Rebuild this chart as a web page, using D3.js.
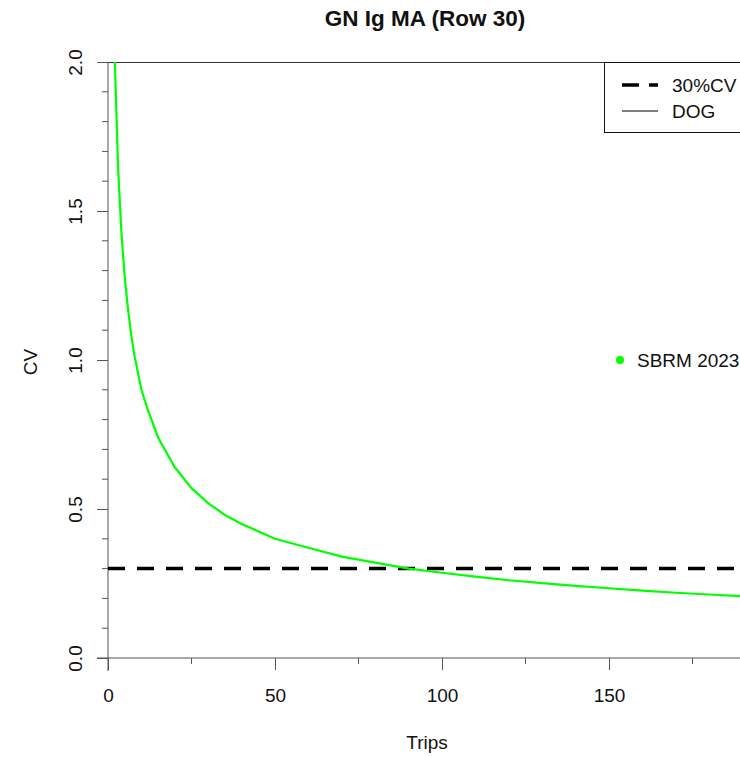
<!doctype html>
<html>
  <head>
    <script src="https://cdnjs.cloudflare.com/ajax/libs/d3/7.8.5/d3.min.js"></script>
    <style>
      body { margin: 0; background: #fff; }
      svg { font-family: "Liberation Sans", Arial, sans-serif; }
      .axis path, .axis line { stroke: #555; }
      .axis text { fill: #111; font-size: 19px; }
    </style>
  </head>
  <body>
    <svg width="740" height="757"></svg>
    <script>
      // CV by number of trips
      var trips = [2, 3, 4, 5, 6, 7, 8, 10, 12, 15, 20, 25, 30, 35, 40, 50, 60, 70, 80, 90, 100, 110, 120, 130, 140, 150, 160, 170, 180, 190];
      var cv    = [2.02, 1.65, 1.43, 1.28, 1.17, 1.08, 1.01, 0.90, 0.83, 0.74, 0.64, 0.57, 0.52, 0.48, 0.45, 0.40, 0.37, 0.34, 0.32, 0.30, 0.286, 0.273, 0.261, 0.251, 0.242, 0.234, 0.226, 0.219, 0.213, 0.207];
      var target = 0.3;
      var sbrm = { label: "SBRM 2023", cv: 1.0 };
      var xTicks = [0, 50, 100, 150];
      var xMinor = [25, 75, 125, 175];
      var yTicks = [0, 0.5, 1.0, 1.5, 2.0];
      var yMinor = [0.1, 0.2, 0.3, 0.4, 0.6, 0.7, 0.8, 0.9, 1.1, 1.2, 1.3, 1.4, 1.6, 1.7, 1.8, 1.9];

      var svg = d3.select("svg");
      var pl = 108, pr = 742.6, pt = 62, pb = 658;

      var x = d3.scaleLinear().domain([0, 190]).range([pl, pr]);
      var y = d3.scaleLinear().domain([0, 2]).range([pb, pt]);

      svg.append("defs").append("clipPath").attr("id", "plot")
        .append("rect").attr("x", pl).attr("y", pt)
        .attr("width", pr - pl).attr("height", pb - pt);

      // top border
      svg.append("line")
        .attr("x1", pl).attr("x2", 740).attr("y1", pt + 0.5).attr("y2", pt + 0.5)
        .attr("stroke", "#333").attr("stroke-width", 1);

      // axes
      var xAxis = svg.append("g").attr("class", "axis")
        .attr("transform", "translate(0," + pb + ")")
        .call(d3.axisBottom(x).tickValues(xTicks).tickSize(12).tickSizeOuter(0).tickFormat(d3.format("d")));
      xAxis.select(".domain").attr("d", "M" + (pl - 11) + ",0H740");
      xAxis.selectAll("text").attr("dy", null).attr("y", 44);
      xAxis.selectAll(".minor").data(xMinor).enter().append("line")
        .attr("class", "minor").attr("x1", d => x(d)).attr("x2", d => x(d))
        .attr("y1", 0).attr("y2", 6);

      var yAxis = svg.append("g").attr("class", "axis")
        .attr("transform", "translate(" + pl + ",0)")
        .call(d3.axisLeft(y).tickValues(yTicks).tickSize(11).tickSizeOuter(0).tickFormat(d3.format(".1f")));
      yAxis.select(".domain").attr("d", "M0," + pt + "V" + (pb + 13));
      yAxis.selectAll("text")
        .attr("x", null).attr("dy", null)
        .attr("text-anchor", "middle")
        .attr("transform", "translate(-26,0) rotate(-90)");
      yAxis.selectAll(".minor").data(yMinor).enter().append("line")
        .attr("class", "minor").attr("y1", d => y(d)).attr("y2", d => y(d))
        .attr("x1", 0).attr("x2", -6);

      // titles
      svg.append("text").attr("x", 425).attr("y", 26).attr("text-anchor", "middle")
        .attr("font-weight", "bold").attr("font-size", 22.5).attr("fill", "#111")
        .text("GN Ig MA (Row 30)");
      svg.append("text").attr("x", 427).attr("y", 749).attr("text-anchor", "middle")
        .attr("font-size", 19).attr("fill", "#111").text("Trips");
      svg.append("text").attr("transform", "translate(37,362) rotate(-90)")
        .attr("text-anchor", "middle").attr("font-size", 19).attr("fill", "#111").text("CV");

      var plot = svg.append("g").attr("clip-path", "url(#plot)");

      // 30% CV reference line
      plot.append("line")
        .attr("x1", pl).attr("x2", 745).attr("y1", y(target)).attr("y2", y(target))
        .attr("stroke", "#000").attr("stroke-width", 3.5).attr("stroke-dasharray", "17,12");

      // CV curve
      var line = d3.line().x((d, i) => x(d)).y((d, i) => y(cv[i]));
      plot.append("path").datum(trips)
        .attr("d", line).attr("fill", "none")
        .attr("stroke", "#00ff00").attr("stroke-width", 2.2);

      // SBRM point
      svg.append("circle").attr("cx", 620).attr("cy", y(sbrm.cv)).attr("r", 4).attr("fill", "#00ff00");
      svg.append("text").attr("x", 637).attr("y", y(sbrm.cv) + 7)
        .attr("font-size", 19).attr("fill", "#111").text(sbrm.label);

      // legend
      var lg = svg.append("g");
      lg.append("rect").attr("x", 604.5).attr("y", pt + 0.5).attr("width", 150).attr("height", 70)
        .attr("fill", "#fff").attr("stroke", "#111").attr("stroke-width", 1);
      lg.append("line").attr("x1", 622).attr("x2", 658).attr("y1", 85).attr("y2", 85)
        .attr("stroke", "#000").attr("stroke-width", 3.5).attr("stroke-dasharray", "17,10");
      lg.append("text").attr("x", 672).attr("y", 92).attr("font-size", 19).attr("fill", "#111").text("30%CV");
      lg.append("line").attr("x1", 622).attr("x2", 658).attr("y1", 111).attr("y2", 111)
        .attr("stroke", "#000").attr("stroke-width", 1);
      lg.append("text").attr("x", 672).attr("y", 118).attr("font-size", 19).attr("fill", "#111").text("DOG");
    </script>
  </body>
</html>
